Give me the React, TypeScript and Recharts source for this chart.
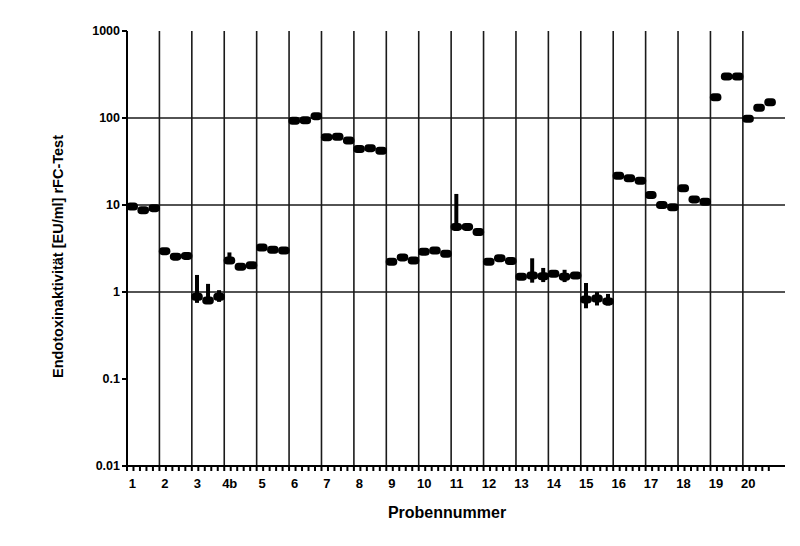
import React from 'react';
import { ScatterChart, Scatter, XAxis, YAxis, ReferenceLine, ErrorBar } from 'recharts';

const groupLabels = ['1', '2', '3', '4b', '5', '6', '7', '8', '9', '10', '11', '12', '13', '14', '15', '16', '17', '18', '19', '20'];
const rep1 = [9.6, 2.95, 0.88, 2.3, 3.25, 93, 60, 44, 2.23, 2.9, 5.6, 2.23, 1.5, 1.62, 0.82, 21.7, 13, 15.6, 173, 98];
const rep2 = [8.7, 2.55, 0.8, 1.95, 3.05, 94, 61, 45, 2.5, 3.0, 5.6, 2.45, 1.55, 1.5, 0.84, 20.3, 10, 11.6, 300, 131];
const rep3 = [9.2, 2.6, 0.88, 2.03, 3.0, 105, 55, 42, 2.3, 2.75, 4.9, 2.27, 1.52, 1.55, 0.78, 19, 9.4, 10.9, 300, 152];
// [group index, replicate, lower bound, upper bound]
const errorBounds = [
  [2, 0, 0.75, 1.57], [2, 1, 0.75, 1.24], [2, 2, 0.77, 1.05],
  [3, 0, 2.2, 2.85],
  [10, 0, 5.3, 13.4],
  [12, 1, 1.28, 2.44], [12, 2, 1.3, 1.89],
  [13, 1, 1.3, 1.8],
  [14, 0, 0.65, 1.27], [14, 1, 0.7, 1.0], [14, 2, 0.7, 0.95],
];
const yTicks = [0.01, 0.1, 1, 10, 100, 1000];
const gridValues = [1, 10, 100];

const repOffsets = [0.8, 2.5, 4.2];
const reps = [rep1, rep2, rep3];

const points = groupLabels.flatMap((_, g) =>
  reps.map((rep, r) => {
    const v = rep[g];
    const e = errorBounds.find((b) => b[0] === g && b[1] === r);
    return { x: g * 5 + repOffsets[r], y: v, err: e ? [v - e[2], e[3] - v] : [0, 0] };
  })
);

const xTicks = Array.from({ length: 100 }, (_, i) => i);
const groupLines = groupLabels.slice(1).map((_, i) => (i + 1) * 5);

const font = 'Arial, "Liberation Sans", sans-serif';

const XTick = (props: any) => {
  const { x, y, payload } = props;
  const v = payload.value;
  if ((v - 1) % 5 !== 0) return <g />;
  return (
    <text x={x - 1} y={y + 6} dy="0.71em" textAnchor="middle" fontSize={13} fontWeight="bold" fontFamily={font} fill="#000">
      {groupLabels[(v - 1) / 5]}
    </text>
  );
};

const Blob = (props: any) => {
  const { cx, cy } = props;
  return <rect x={cx - 5.8} y={cy - 4} width={11.6} height={8} rx={3.8} fill="#000" />;
};

export default function App() {
  return (
    <ScatterChart width={784} height={530} margin={{ top: 23, right: 7, bottom: 12, left: 0 }}>
      <XAxis
        type="number"
        dataKey="x"
        domain={[0, 101.5]}
        ticks={xTicks}
        interval={0}
        tick={<XTick />}
        tickSize={5}
        axisLine={{ stroke: '#000', strokeWidth: 2 }}
        tickLine={{ stroke: '#000', strokeWidth: 2 }}
        height={60}
        label={{
          value: 'Probennummer',
          position: 'insideBottom',
          offset: 8,
          dx: -9,
          style: { fontSize: 16, fontWeight: 'bold', fontFamily: font, fill: '#000' },
        }}
      />
      <YAxis
        type="number"
        dataKey="y"
        scale="log"
        domain={[0.01, 1000]}
        allowDataOverflow
        ticks={yTicks}
        interval={0}
        width={119}
        tickSize={5}
        tickMargin={2}
        tickFormatter={(v: number) => String(v)}
        tick={{ fontSize: 12.5, fontWeight: 'bold', fontFamily: font, fill: '#000' }}
        axisLine={{ stroke: '#000', strokeWidth: 2 }}
        tickLine={{ stroke: '#000', strokeWidth: 2 }}
        label={{
          value: 'Endotoxinaktivität [EU/ml] rFC-Test',
          angle: -90,
          position: 'insideLeft',
          offset: 50,
          dy: 8,
          style: { textAnchor: 'middle', fontSize: 14.5, fontWeight: 'bold', fontFamily: font, fill: '#000' },
        }}
      />
      {gridValues.map((v) => (
        <ReferenceLine key={'h' + v} y={v} stroke="#1a1a1a" strokeWidth={1.6} />
      ))}
      {groupLines.map((x) => (
        <ReferenceLine key={'v' + x} x={x} stroke="#1a1a1a" strokeWidth={1.6} />
      ))}
      <Scatter data={points} fill="#000" shape={<Blob />} isAnimationActive={false}>
        <ErrorBar dataKey="err" direction="y" width={0} strokeWidth={4} stroke="#000" />
      </Scatter>
    </ScatterChart>
  );
}
